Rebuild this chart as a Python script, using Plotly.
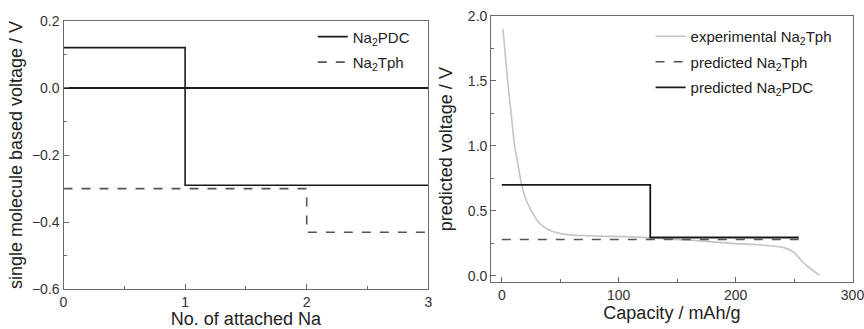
import plotly.graph_objects as go

# Left panel: single-molecule voltages vs number of attached Na
na_steps = [0, 1, 2, 3]
pdc_voltage = [0.12, -0.29, -0.29]
tph_voltage = [-0.30, -0.30, -0.43]

# Right panel: predicted voltages vs capacity
cap_pdc = [0, 127, 254]
pdc_pred = [0.70, 0.295]
cap_tph = [0, 254]
tph_pred = [0.28]

# Experimental Na2Tph discharge curve
exp_cap = [1, 3, 5, 8, 11, 14, 17, 21, 26, 30, 34, 40, 48, 58, 68, 85, 111, 139, 168, 197, 225, 242, 250, 256, 262, 267, 272]
exp_v = [1.90, 1.70, 1.50, 1.25, 1.00, 0.85, 0.70, 0.58, 0.49, 0.43, 0.39, 0.355, 0.33, 0.315, 0.31, 0.305, 0.30, 0.285, 0.27, 0.25, 0.235, 0.215, 0.18, 0.12, 0.07, 0.035, 0.005]

def step_xy(edges, levels):
    xs, ys = [], []
    for i, v in enumerate(levels):
        xs += [edges[i], edges[i + 1]]
        ys += [v, v]
    return xs, ys

fig = go.Figure()

x1, y1 = step_xy(na_steps, pdc_voltage)
fig.add_trace(go.Scatter(x=x1, y=y1, mode="lines", name="Na<sub>2</sub>PDC", legendgroup="a",
                         line=dict(color="#1a1a1a", width=1.6), xaxis="x", yaxis="y", legend="legend"))
x2, y2 = step_xy(na_steps, tph_voltage)
fig.add_trace(go.Scatter(x=x2, y=y2, mode="lines", name="Na<sub>2</sub>Tph", legendgroup="b",
                         line=dict(color="#555555", width=1.6, dash="dash"), xaxis="x", yaxis="y", legend="legend"))

fig.add_trace(go.Scatter(x=exp_cap, y=exp_v, mode="lines", name="experimental Na<sub>2</sub>Tph", legendgroup="c",
                         line=dict(color="#c4c4c4", width=1.6, shape="spline"), xaxis="x2", yaxis="y2", legend="legend2"))
x3, y3 = step_xy(cap_tph, tph_pred)
fig.add_trace(go.Scatter(x=x3, y=y3, mode="lines", name="predicted Na<sub>2</sub>Tph", legendgroup="d",
                         line=dict(color="#555555", width=1.6, dash="dash"), xaxis="x2", yaxis="y2", legend="legend2"))
x4, y4 = step_xy(cap_pdc, pdc_pred)
fig.add_trace(go.Scatter(x=x4, y=y4, mode="lines", name="predicted Na<sub>2</sub>PDC", legendgroup="e",
                         line=dict(color="#1a1a1a", width=1.8), xaxis="x2", yaxis="y2", legend="legend2"))

axis_common = dict(showline=True, linecolor="#6a6a6a", linewidth=1.3, mirror=True, automargin=False,
                   ticks="inside", ticklen=5, tickcolor="#6a6a6a", showgrid=False,
                   ticklabeloverflow="allow",
                   tickfont=dict(size=14, color="#333333"),
                   title_font=dict(size=18, color="#222222"))

fig.update_layout(
    width=864, height=329,
    margin=dict(l=0, r=0, t=0, b=0, autoexpand=False),
    plot_bgcolor="white", paper_bgcolor="white",
    font=dict(family="Liberation Sans, Arial, sans-serif", color="#222222"),
    xaxis=dict(domain=[0.0735, 0.4957], range=[0, 3], dtick=1, zeroline=False,
               minor=dict(dtick=0.5, ticks="inside", ticklen=3, tickcolor="#6a6a6a"),
               title=dict(text="No. of attached Na", standoff=0), anchor="y", **axis_common),
    yaxis=dict(domain=[0.1207, 0.937], range=[-0.6, 0.2], dtick=0.2, tickformat=".1f",
               zeroline=True, zerolinecolor="#1a1a1a", zerolinewidth=1.6,
               minor=dict(dtick=0.1, ticks="inside", ticklen=3, tickcolor="#6a6a6a"),
               title=dict(text="single molecule based voltage / V", standoff=4), anchor="x", **axis_common),
    xaxis2=dict(domain=[0.5686, 0.9867], range=[-9, 300], tickvals=[0, 100, 200, 300], zeroline=False,
                minor=dict(tickvals=[50, 150, 250], ticks="inside", ticklen=3, tickcolor="#6a6a6a"),
                title=dict(text="Capacity / mAh/g", standoff=0), anchor="y2", **axis_common),
    yaxis2=dict(domain=[0.1419, 0.9514], range=[-0.05, 2.0], dtick=0.5, tickformat=".1f", zeroline=False,
                minor=dict(dtick=0.25, ticks="inside", ticklen=3, tickcolor="#6a6a6a"),
                title=dict(text="predicted voltage / V", standoff=10), anchor="x2", **axis_common),
    legend=dict(x=0.362, y=0.938, xanchor="left", yanchor="top", bgcolor="rgba(0,0,0,0)",
                font=dict(size=15, color="#222222"), tracegroupgap=3, itemwidth=30),
    legend2=dict(x=0.753, y=0.939, xanchor="left", yanchor="top", bgcolor="rgba(0,0,0,0)",
                 font=dict(size=15, color="#222222"), tracegroupgap=3, itemwidth=30),
    showlegend=True,
)

fig.write_html("out.html", config={"displayModeBar": False},
               post_script="document.body.style.margin='0';document.body.style.overflow='hidden';")
